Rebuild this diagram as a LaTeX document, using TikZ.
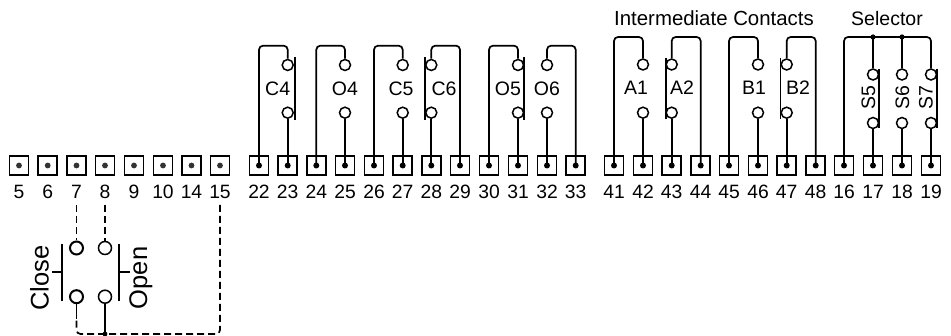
\documentclass[tikz,border=0pt]{standalone}
\usepackage{fontspec}
\setmainfont{Liberation Sans}
\begin{document}
\begin{tikzpicture}[x=1pt,y=-1pt,line width=1.7pt,
  term/.style={draw,rectangle,minimum size=19pt,inner sep=0pt,line width=1.7pt},
  numlab/.style={font=\fontsize{19.3}{19}\selectfont,anchor=base,inner sep=0pt},
  conlab/.style={font=\fontsize{19.5}{20}\selectfont,anchor=base,inner sep=0pt},
  contact/.style={draw,circle,minimum size=11pt,inner sep=0pt,line width=1.5pt},
  wire/.style={draw,rounded corners=4pt,line width=1.7pt},
  dashwire/.style={wire,dash pattern=on 7pt off 4pt},
  bar/.style={draw,line width=1.7pt},
  pin/.style={fill=black}]
\useasboundingbox (0,0) rectangle (951,336);
% terminals and numbers
\foreach \n/\x in {5/19,6/47.7,7/76.5,8/105,9/134,10/163,14/191.5,15/220,
  22/259,23/287.7,24/316.3,25/345,26/374,27/402.7,28/431.3,29/460,30/489,31/518,32/547,33/575.7,
  41/614,42/643,43/671.7,44/700.7,45/729,46/758,47/786.7,48/815.7,16/844,17/873,18/902,19/931}{
  \node[term] (t\n) at (\x,165.5) {};
  \node[numlab] (l\n) at (\x,199) {\n};
}
% contacts: upper a, lower b
\foreach \n/\x in {C4/287.7,O4/345,C5/402.7,C6/431.3,O5/518,O6/547}{
  \node[contact] (\n a) at (\x,65) {};
  \node[contact] (\n b) at (\x,112.7) {};
}
\foreach \n/\x in {A1/643,A2/671.7,B1/758,B2/786.7}{
  \node[contact] (\n a) at (\x,64.5) {};
  \node[contact] (\n b) at (\x,112.7) {};
}
\foreach \n/\x in {S5/873,S6/902,S7/931}{
  \node[contact] (\n a) at (\x,74.5) {};
  \node[contact] (\n b) at (\x,123) {};
}
\node[contact,line width=2pt,minimum size=13pt] (Cla) at (76.5,248) {};
\node[contact,line width=2pt,minimum size=13pt] (Clb) at (76.5,296.7) {};
\node[contact,minimum size=13pt] (Opa) at (105,248) {};
\node[contact,minimum size=13pt] (Opb) at (105,296.7) {};
% lower wires
\foreach \n/\t in {C4/23,O4/25,C5/27,C6/28,O5/31,O6/32,A1/42,A2/43,B1/46,B2/47,S5/17,S6/18,S7/19}{
  \draw[wire] (t\t.center) -- (\n b.south);
}
% upper wires
\foreach \n/\t in {C4/22,O4/24,C5/26,O5/30,C6/29,O6/33}{
  \draw[wire] (t\t.center) -- (t\t.center |- 0,45.7) -- (\n a.north |- 0,45.7) -- (\n a.north);
}
\foreach \n/\t in {A1/41,A2/44,B1/45,B2/48}{
  \draw[wire] (t\t.center) -- (t\t.center |- 0,37) -- (\n a.north |- 0,37) -- (\n a.north);
}
% selector bus
\coordinate (bus17) at (873,37);
\coordinate (bus18) at (902,37);
\draw[wire] (t16.center) -- (t16.center |- 0,37) -- (S7a.north |- 0,37) -- (S7a.north);
\draw[wire] (bus17) -- (S5a.north);
\draw[wire] (bus18) -- (S6a.north);
\fill[pin] (bus17) circle (2.6pt);
\fill[pin] (bus18) circle (2.6pt);
% bars
\draw[bar] (295,57) -- (295,120);
\draw[bar] (425,57) -- (425,120);
\draw[bar] (524.3,57) -- (524.3,120);
\draw[bar] (665.7,58) -- (665.7,119);
\draw[bar] (780.5,58) -- (780.5,119);
\draw[bar] (879,69) -- (879,128);
\draw[bar] (937.3,69) -- (937.3,128);
% dots in terminals
\foreach \t in {5,6,7,8,9,10,14,15}{\fill[black!80] (t\t.center) circle (2.9pt);}
\foreach \t in {22,23,24,25,26,27,28,29,30,31,32,33,41,42,43,44,45,46,47,48,16,17,18,19}{\fill[pin] (t\t.center) circle (3pt);}
% contact labels
\foreach \s/\x/\y in {C4/277.7/95.7,O4/345/95.7,C5/401/95.7,C6/444/95.7,O5/508/95.7,O6/547/95.7,
   A1/636/95,A2/682/95,B1/754/95,B2/798/95}{
  \node[conlab] (n\s) at (\x,\y) {\s};
}
\foreach \s/\x in {S5/875,S6/909,S7/932.5}{
  \node[conlab,rotate=90,anchor=base] (n\s) at (\x,98) {\s};
}
\node[conlab,font=\fontsize{20.4}{21}\selectfont] (ic) at (714,25.5) {Intermediate Contacts};
\node[conlab] (sel) at (887,26) {Selector};
% close / open push buttons
\draw[bar] (62,244) -- (62,301);
\draw[bar] (52,272) -- (62,272);
\draw[bar] (119.3,244) -- (119.3,301);
\draw[bar] (119.3,272) -- (129.6,272);
\node[rotate=90,anchor=base,inner sep=0pt,font=\fontsize{25.5}{25}\selectfont] (close) at (48.6,278) {Close};
\node[rotate=90,anchor=base,inner sep=0pt,font=\fontsize{25.5}{25}\selectfont] (open) at (147,278) {Open};
% dashed wiring
\coordinate (s7) at (l7.base |- 0,205);
\coordinate (s8) at (l8.base |- 0,205);
\coordinate (s15) at (l15.base |- 0,205);
\coordinate (bot) at (105,334);
\draw[dashwire] (s7) -- (Cla.north);
\draw[dashwire] (s8) -- (Opa.north);
\draw[wire] (Clb.south) -- (76.5,319);
\draw[dashwire] (s15) -- (s15 |- bot) -- (Clb.south |- bot) -- (76.5,319);
\draw[wire] (Opb.south) -- (bot);
\fill[pin] (bot) circle (2.4pt);
\end{tikzpicture}
\end{document}
